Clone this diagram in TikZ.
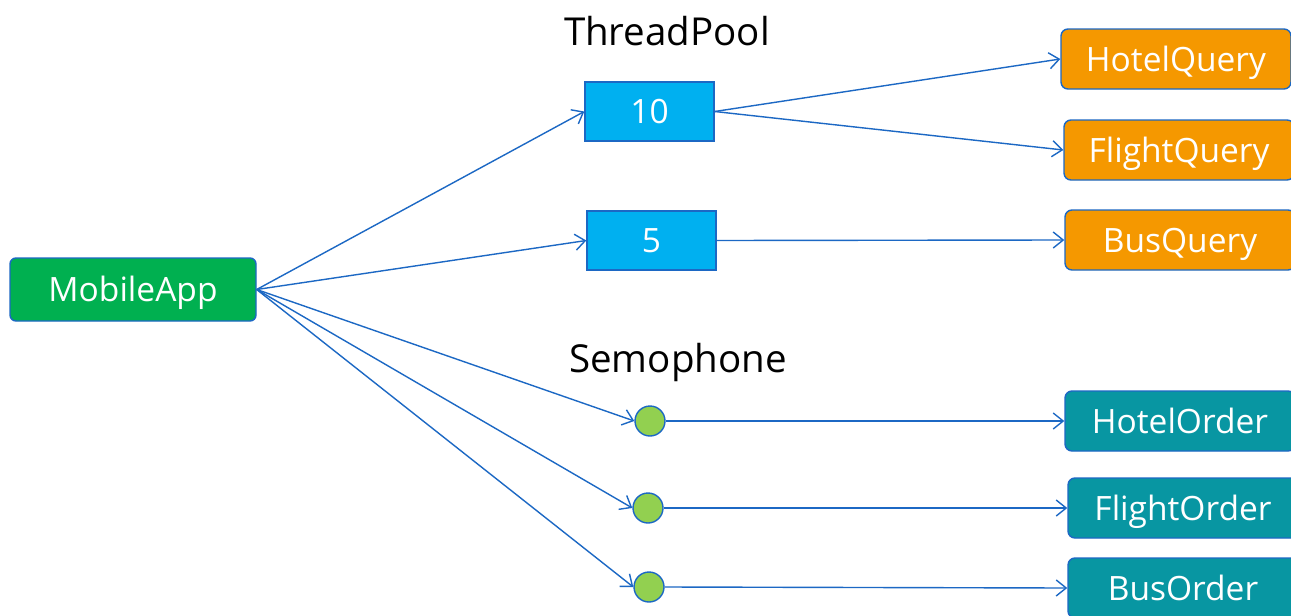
\documentclass[tikz,border=0pt]{standalone}
\usepackage{fontspec}
\setmainfont{Open Sans}
\usetikzlibrary{arrows.meta}
\definecolor{edgeblue}{RGB}{28,104,196}
\definecolor{appgreen}{RGB}{0,176,80}
\definecolor{poolblue}{RGB}{0,176,240}
\definecolor{queryorange}{RGB}{245,152,0}
\definecolor{orderteal}{RGB}{8,150,162}
\definecolor{semgreen}{RGB}{146,208,80}
\tikzset{
  base/.style={draw=edgeblue, line width=1.4pt, text=white, inner sep=0pt,
    font=\fontsize{33.5}{38}\selectfont, text height=24pt, text depth=0pt},
  appbox/.style={base, fill=appgreen, rounded corners=6pt, minimum width=246pt, minimum height=63pt},
  poolbox/.style={base, fill=poolblue, minimum width=129pt, minimum height=59pt},
  querybox/.style={base, fill=queryorange, rounded corners=7pt, minimum width=230pt, minimum height=60pt},
  orderbox/.style={base, fill=orderteal, rounded corners=7pt, minimum width=230pt, minimum height=60pt},
  sem/.style={draw=edgeblue, line width=1.4pt, fill=semgreen, circle, minimum size=30pt, inner sep=0pt},
  title/.style={text=black, font=\fontsize{38.5}{44}\selectfont, text height=27.5pt, text depth=0pt, inner sep=0pt},
  conn/.style={draw=edgeblue, line width=1.4pt, -{Straight Barb[length=10pt,width=16pt,line width=1.4pt]}}
}
\begin{document}
\begin{tikzpicture}[x=1pt,y=-1pt]
\useasboundingbox (0,0) rectangle (1291,616);
\clip (0,0) rectangle (1291,616);
\fill[white] (0,0) rectangle (1291,616);

\node[appbox] (app) at (133,289.5) {MobileApp};
\node[poolbox] (p10) at (649.5,111.5) {10};
\node[poolbox] (p5) at (651.5,240.5) {5};
\node[title] (tp) at (667,31.5) {ThreadPool};
\node[title] (sm) at (678,358.5) {Semophone};

\node[sem] (s1) at (650,421) {};
\node[sem] (s2) at (648,508) {};
\node[sem] (s3) at (649,587) {};

\node[querybox] (hq) at (1176,59) {HotelQuery};
\node[querybox] (fq) at (1179,150) {FlightQuery};
\node[querybox] (bq) at (1180,240) {BusQuery};
\node[orderbox] (ho) at (1180,421) {HotelOrder};
\node[orderbox] (fo) at (1183,508) {FlightOrder};
\node[orderbox] (bo) at (1183,588) {BusOrder};

\draw[conn] (app.east) -- (p10.west);
\draw[conn] (app.east) -- (p5.west);
\draw[conn] (app.east) -- (s1.west);
\draw[conn] (app.east) -- (s2.west);
\draw[conn] (app.east) -- (s3.west);
\draw[conn] (p10.east) -- (hq.west);
\draw[conn] (p10.east) -- (fq.west);
\draw[conn] (p5.east) -- (bq.west);
\draw[conn] (s1.east) -- (ho.west);
\draw[conn] (s2.east) -- (fo.west);
\draw[conn] (s3.east) -- (bo.west);
\end{tikzpicture}
\end{document}
